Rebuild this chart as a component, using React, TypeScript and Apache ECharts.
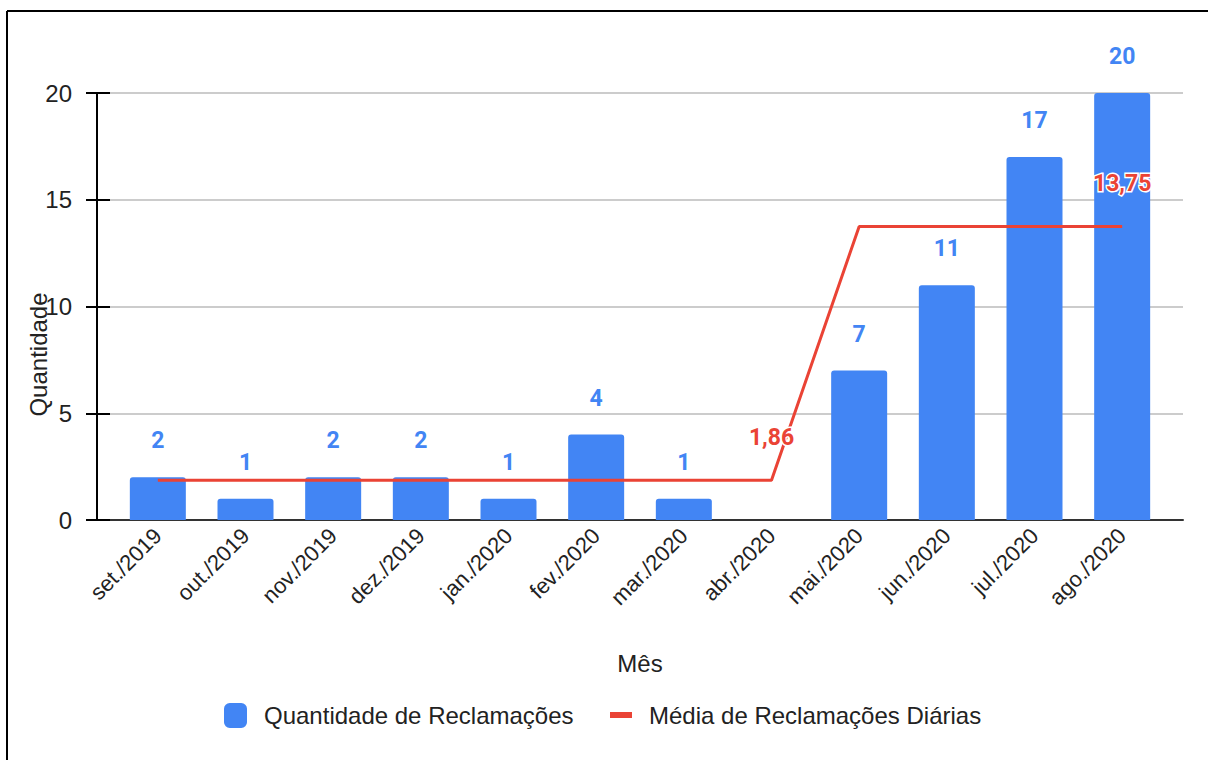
import React, { useEffect, useRef } from "react";
import * as echarts from "echarts";

const categories = [
  "set./2019", "out./2019", "nov./2019", "dez./2019", "jan./2020", "fev./2020",
  "mar./2020", "abr./2020", "mai./2020", "jun./2020", "jul./2020", "ago./2020",
];
const quantidade = [2, 1, 2, 2, 1, 4, 1, 0, 7, 11, 17, 20];
const mediaDiaria = [1.86, 1.86, 1.86, 1.86, 1.86, 1.86, 1.86, 1.86, 13.75, 13.75, 13.75, 13.75];
const mediaLabelIdx = [7, 11];
const yTicks = { min: 0, max: 20, interval: 5 };

const BLUE = "#4285F4";
const RED = "#EA4335";
const FONT = "Liberation Sans, Arial, sans-serif";
const BOLD_FONT = "Roboto, Liberation Sans, Arial, sans-serif";

export default function App() {
  const ref = useRef<HTMLDivElement>(null);
  useEffect(() => {
    if (!ref.current) return;
    const chart = echarts.init(ref.current, null, { renderer: "svg" });
    const option: any = {
      animation: false,
      backgroundColor: "#fff",
      grid: [
        { left: 114, right: 42, top: 93, bottom: 240 },
        { left: 97, right: 25, top: 93, bottom: 240 },
      ],
      xAxis: [
        {
          type: "category",
          gridIndex: 0,
          data: categories,
          axisLine: { show: false },
          axisTick: { show: false },
          axisLabel: {
            rotate: 45,
            margin: 12,
            fontSize: 22,
            fontFamily: FONT,
            color: "#222",
            interval: 0,
          },
          name: "Mês",
          nameLocation: "middle",
          nameGap: 131,
          nameTextStyle: { fontSize: 24, fontFamily: FONT, color: "#222" },
        },
        {
          type: "value",
          gridIndex: 1,
          min: 0,
          max: 1,
          axisLine: { show: true, lineStyle: { color: "#333", width: 2 } },
          axisTick: { show: false },
          axisLabel: { show: false },
          splitLine: { show: false },
        },
      ],
      yAxis: [
        {
          type: "value",
          gridIndex: 0,
          min: yTicks.min,
          max: yTicks.max,
          interval: yTicks.interval,
          show: false,
        },
        {
          type: "value",
          gridIndex: 1,
          position: "left",
          min: yTicks.min,
          max: yTicks.max,
          interval: yTicks.interval,
          axisLine: { show: true, lineStyle: { color: "#000", width: 2 } },
          axisTick: { show: true, inside: true, length: 13, lineStyle: { color: "#000", width: 2 } },
          axisLabel: { show: false },
          splitLine: { show: true, lineStyle: { color: "#cccccc", width: 2 } },
          name: "Quantidade",
          nameLocation: "middle",
          nameGap: 47,
          nameMoveOverlap: false,
          nameTextStyle: { fontSize: 24, fontFamily: FONT, color: "#222", padding: [0, 96, 0, 0] },
        },
        {
          type: "value",
          gridIndex: 1,
          position: "left",
          offset: 0,
          min: yTicks.min,
          max: yTicks.max,
          interval: yTicks.interval,
          axisLine: { show: true, lineStyle: { color: "#000", width: 2 } },
          axisTick: { show: true, inside: false, length: 11, lineStyle: { color: "#000", width: 2 } },
          axisLabel: { margin: 25, fontSize: 24, fontFamily: FONT, color: "#222" },
          splitLine: { show: false },
        },
      ],
      legend: [
        {
          data: ["Quantidade de Reclamações"],
          left: 219,
          top: 698,
          itemWidth: 23,
          itemHeight: 25,
          icon: "roundRect",
          textStyle: { fontSize: 24, fontFamily: FONT, color: "#222", padding: [0, 0, 0, 12] },
        },
        {
          data: ["Média de Reclamações Diárias"],
          left: 605,
          top: 698,
          itemWidth: 22,
          itemHeight: 6,
          icon: "rect",
          textStyle: { fontSize: 24, fontFamily: FONT, color: "#222", padding: [0, 0, 0, 12] },
        },
      ],
      series: [
        {
          name: "Quantidade de Reclamações",
          type: "bar",
          xAxisIndex: 0,
          yAxisIndex: 0,
          data: quantidade,
          barWidth: 56,
          itemStyle: { color: BLUE, borderRadius: [3, 3, 0, 0] },
          label: {
            show: true,
            position: "top",
            distance: 25,
            fontSize: 23,
            fontWeight: "bold",
            fontFamily: BOLD_FONT,
            color: BLUE,
            formatter: (p: any) => (p.value ? String(p.value) : ""),
          },
          z: 2,
        },
        {
          name: "Média de Reclamações Diárias",
          type: "line",
          xAxisIndex: 0,
          yAxisIndex: 0,
          data: mediaDiaria.map((v, i) => ({
            value: v,
            label: { show: mediaLabelIdx.includes(i) },
          })),
          symbol: "circle",
          symbolSize: 0,
          showSymbol: true,
          lineStyle: { color: RED, width: 3 },
          itemStyle: { color: RED },
          label: {
            show: false,
            position: "top",
            distance: 31,
            fontSize: 23,
            fontWeight: "bold",
            fontFamily: BOLD_FONT,
            color: RED,
            textBorderColor: "#fff",
            textBorderWidth: 3,
            formatter: (p: any) => String(p.value).replace(".", ","),
          },
          z: 3,
        },
      ],
      graphic: [
        { type: "line", shape: { x1: 7, y1: 11, x2: 1208, y2: 11 }, style: { stroke: "#000", lineWidth: 2 } },
        { type: "line", shape: { x1: 7, y1: 11, x2: 7, y2: 760 }, style: { stroke: "#000", lineWidth: 2 } },
      ],
    };
    chart.setOption(option);
    return () => chart.dispose();
  }, []);
  return (
    <div
      ref={ref}
      style={{ position: "fixed", left: 0, top: 0, width: 1208, height: 760 }}
    />
  );
}
